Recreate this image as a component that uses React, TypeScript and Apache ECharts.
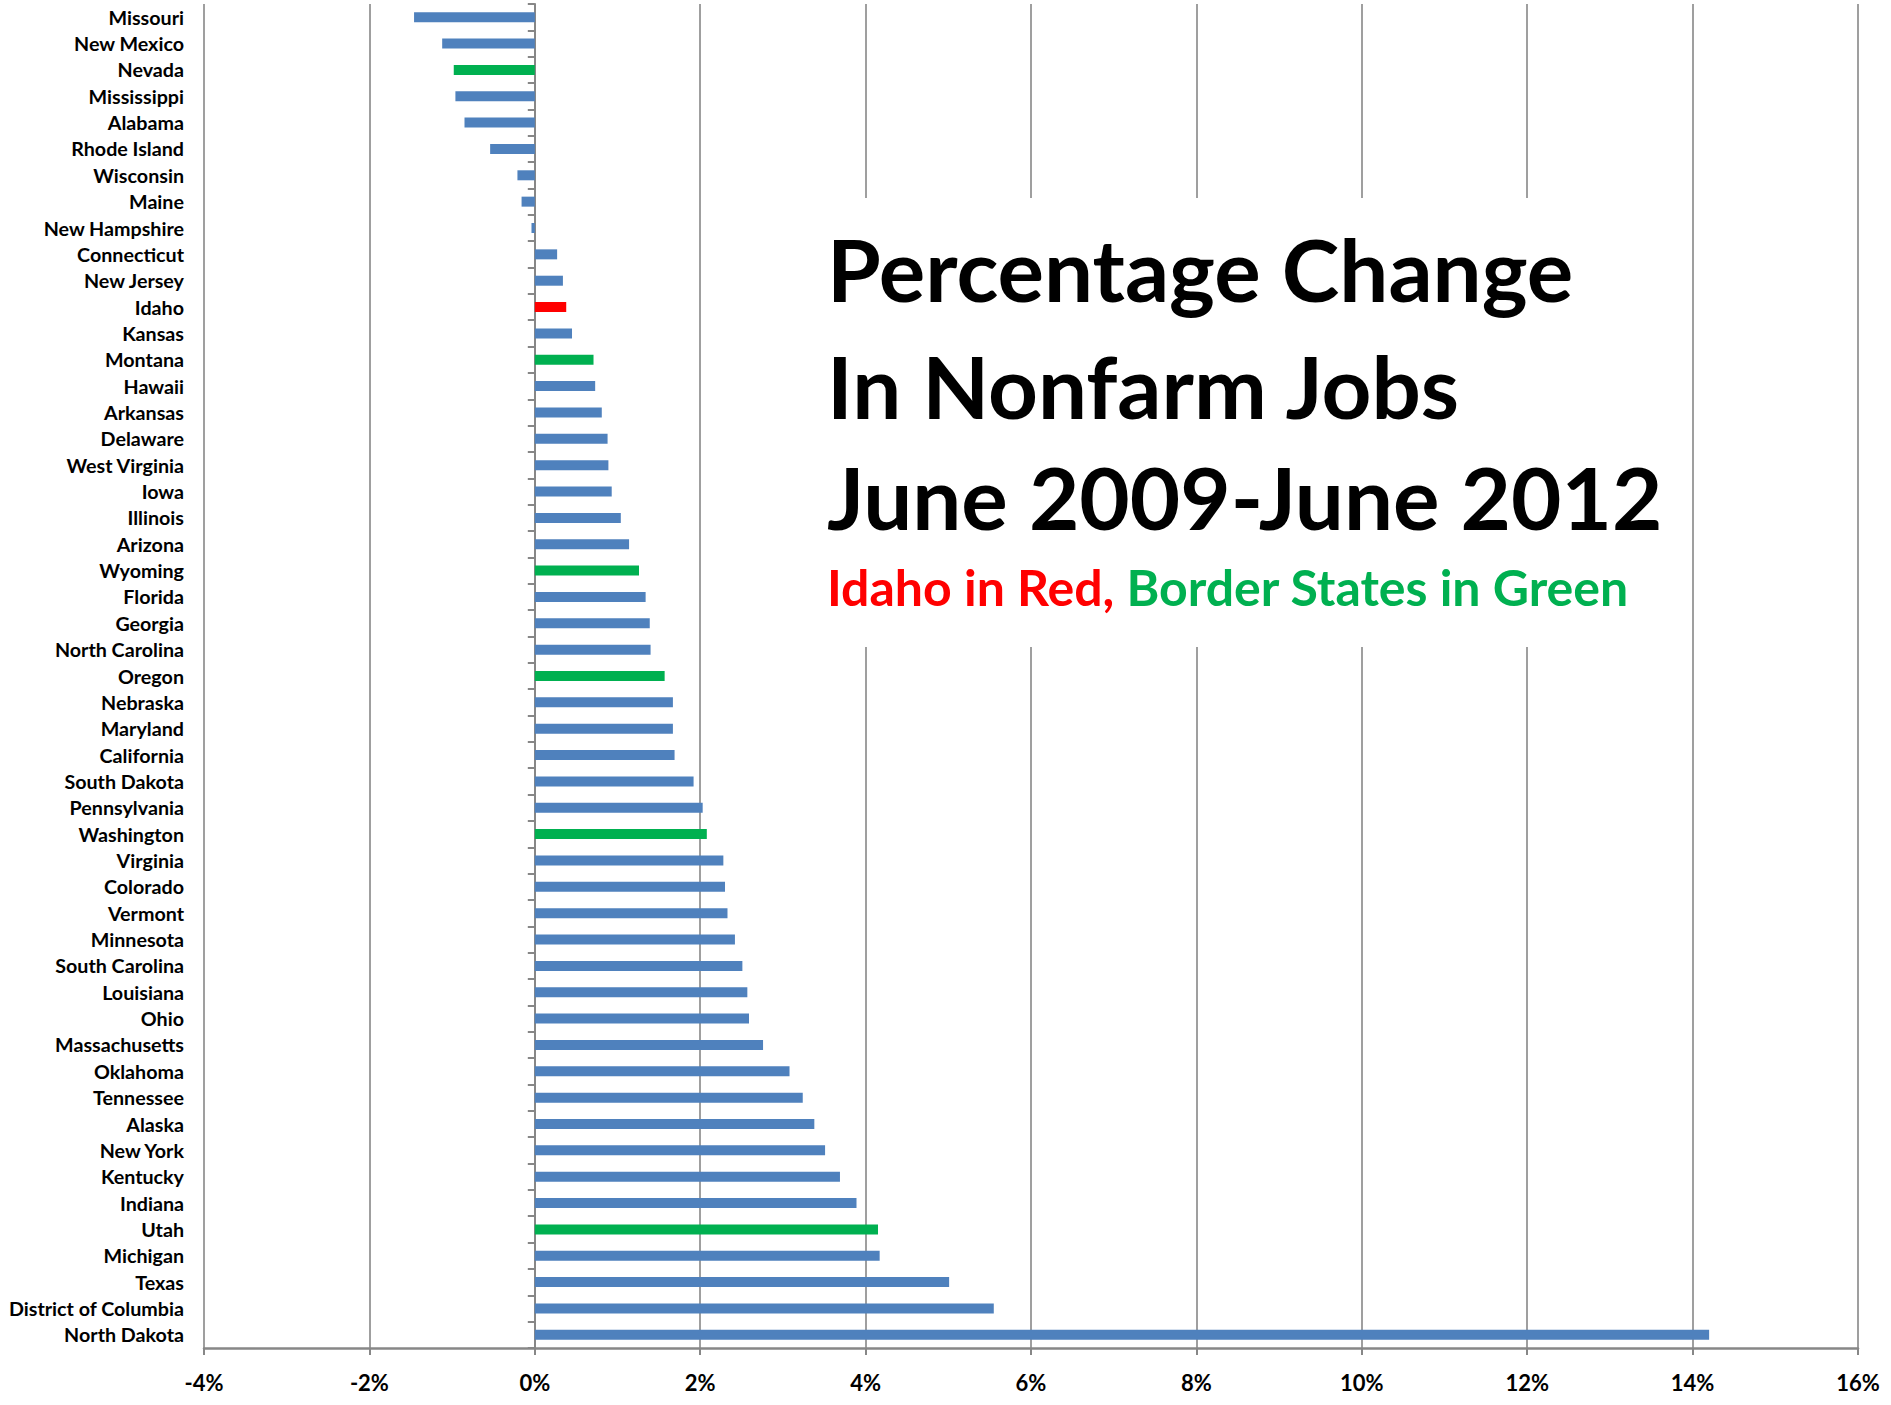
import React, { useEffect, useRef } from "react";
import * as echarts from "echarts";

const states: string[] = [
  "Missouri", "New Mexico", "Nevada", "Mississippi", "Alabama", "Rhode Island",
  "Wisconsin", "Maine", "New Hampshire", "Connecticut", "New Jersey", "Idaho",
  "Kansas", "Montana", "Hawaii", "Arkansas", "Delaware", "West Virginia", "Iowa",
  "Illinois", "Arizona", "Wyoming", "Florida", "Georgia", "North Carolina", "Oregon",
  "Nebraska", "Maryland", "California", "South Dakota", "Pennsylvania", "Washington",
  "Virginia", "Colorado", "Vermont", "Minnesota", "South Carolina", "Louisiana",
  "Ohio", "Massachusetts", "Oklahoma", "Tennessee", "Alaska", "New York", "Kentucky",
  "Indiana", "Utah", "Michigan", "Texas", "District of Columbia", "North Dakota",
];

const pctChange: number[] = [
  -1.46, -1.12, -0.98, -0.96, -0.85, -0.54,
  -0.21, -0.16, -0.04, 0.27, 0.34, 0.38,
  0.45, 0.71, 0.73, 0.81, 0.88, 0.89, 0.93,
  1.04, 1.14, 1.26, 1.34, 1.39, 1.40, 1.57,
  1.67, 1.67, 1.69, 1.92, 2.03, 2.08,
  2.28, 2.30, 2.33, 2.42, 2.51, 2.57,
  2.59, 2.76, 3.08, 3.24, 3.38, 3.51, 3.69,
  3.89, 4.15, 4.17, 5.01, 5.55, 14.20,
];

const homeState = "Idaho";
const borderStates: string[] = ["Nevada", "Montana", "Wyoming", "Oregon", "Washington", "Utah"];

const titleLines: string[] = ["Percentage Change", "In Nonfarm Jobs", "June 2009-June 2012"];

const BLUE = "#4F81BD";
const GREEN = "#00B050";
const RED = "#FF0000";
const GRIDC = "#878787";
const FONT = "Lato";

export default function App() {
  const ref = useRef<HTMLDivElement>(null);

  useEffect(() => {
    if (!ref.current) return;
    const chart = echarts.init(ref.current, null, { renderer: "svg" });

    const data = pctChange.map((v, i) => {
      const s = states[i];
      const color = s === homeState ? RED : borderStates.includes(s) ? GREEN : BLUE;
      return { value: v, itemStyle: { color } };
    });

    const titleY = [268, 385, 496];

    const option: any = {
      animation: false,
      backgroundColor: "#ffffff",
      grid: { left: 204, right: 33, top: 4, bottom: 57, containLabel: false },
      xAxis: {
        type: "value",
        min: -4,
        max: 16,
        interval: 2,
        axisLine: { show: true, onZero: false, lineStyle: { color: GRIDC, width: 2.5 } },
        axisTick: { show: true, length: 7, lineStyle: { color: GRIDC, width: 2 } },
        axisLabel: {
          formatter: "{value}%",
          fontFamily: FONT,
          fontWeight: "bold",
          fontSize: 22,
          color: "#000",
          margin: 23,
        },
        splitLine: { show: true, lineStyle: { color: GRIDC, width: 1.6 } },
      },
      yAxis: [
        {
          type: "category",
          data: states,
          inverse: true,
          position: "left",
          axisLine: { show: false, onZero: false },
          axisTick: { show: false },
          splitLine: { show: false },
          axisLabel: {
            fontFamily: FONT,
            fontWeight: "bold",
            fontSize: 19.7,
            color: "#000",
            margin: 20,
          },
        },
        {
          type: "category",
          data: states,
          inverse: true,
          position: "left",
          axisLine: { show: true, onZero: true, lineStyle: { color: GRIDC, width: 2 } },
          axisTick: { show: true, length: 7, lineStyle: { color: GRIDC, width: 2 } },
          axisLabel: { show: false },
          splitLine: { show: false },
        },
      ],
      series: [
        {
          type: "bar",
          yAxisIndex: 0,
          barWidth: 10,
          data,
        },
      ],
      graphic: [
        {
          type: "rect",
          z: 50,
          shape: { x: 812, y: 198, width: 856, height: 449 },
          style: { fill: "#ffffff" },
        },
        ...titleLines.map((t, i) => ({
          type: "text",
          z: 60,
          x: 827,
          y: titleY[i],
          style: {
            text: t,
            fill: "#000",
            font: `bold 87px ${FONT}`,
            textAlign: "left",
            verticalAlign: "middle",
          },
        })),
        {
          type: "text",
          z: 60,
          x: 827,
          y: 587,
          style: {
            text: "{r|Idaho in Red,} {g|Border States in Green}",
            font: `bold 50px ${FONT}`,
            textAlign: "left",
            verticalAlign: "middle",
            rich: {
              r: { fill: RED, fontSize: 50, fontWeight: "bold", fontFamily: FONT },
              g: { fill: GREEN, fontSize: 50, fontWeight: "bold", fontFamily: FONT },
            },
          },
        },
      ],
    };

    chart.setOption(option);
    return () => chart.dispose();
  }, []);

  return (
    <div
      ref={ref}
      style={{ position: "absolute", left: 0, top: 0, width: 1891, height: 1405 }}
    />
  );
}
